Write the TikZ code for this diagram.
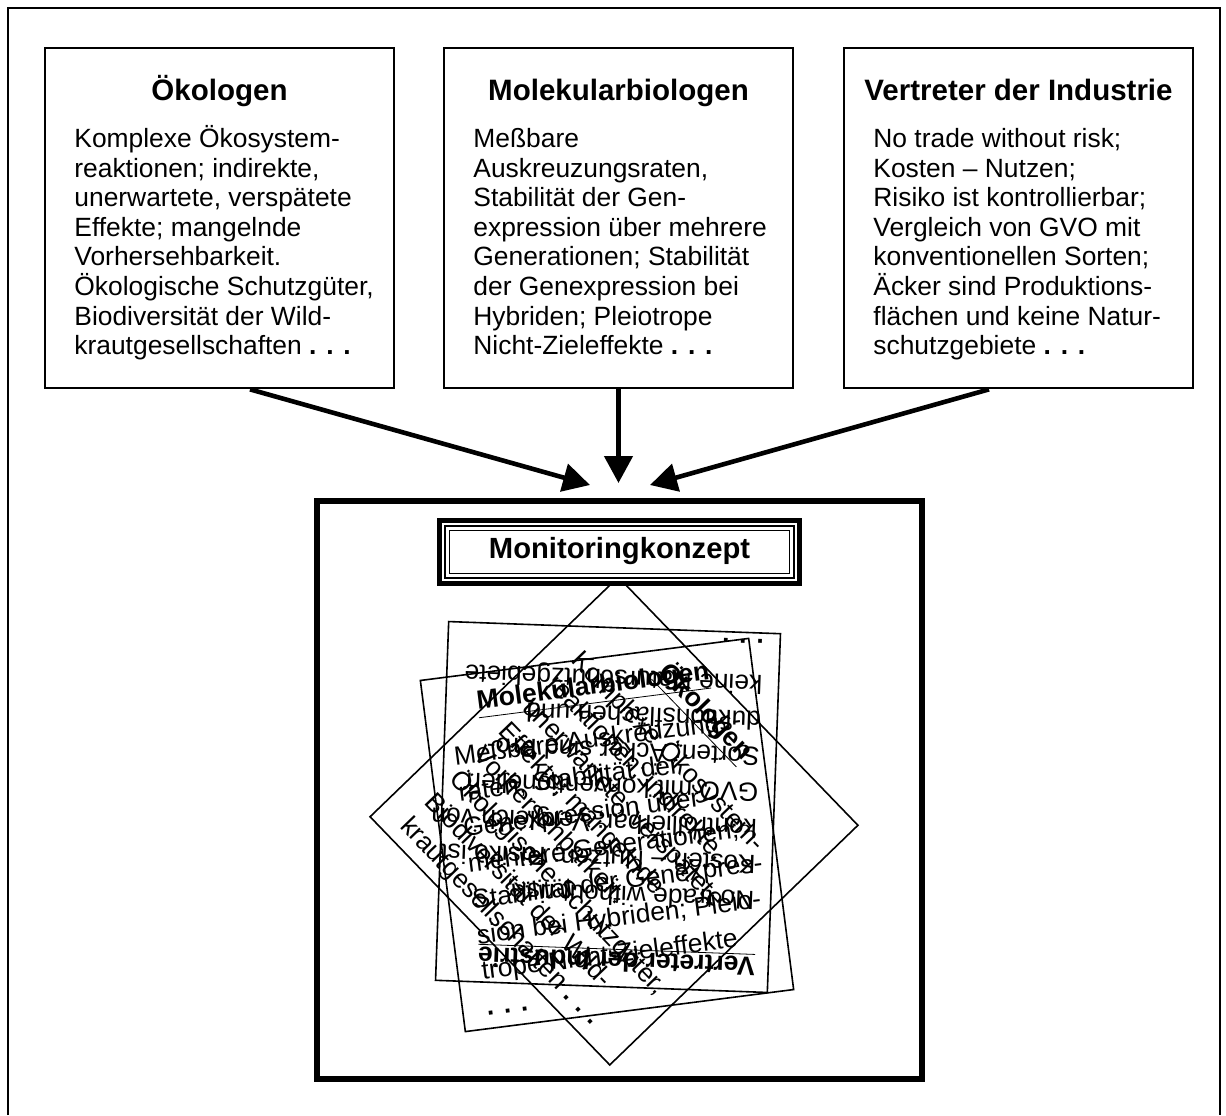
\documentclass[tikz,border=0pt]{standalone}
\usepackage{fontspec}
\setmainfont{Liberation Sans}
\usetikzlibrary{arrows.meta}

\newcommand{\hstrut}[1]{\rule{0pt}{#1}}

\begin{document}
\begin{tikzpicture}[x = 0.5pt, y = -0.5pt,
    grpbox/.style    = {draw, line width = 1.35pt, inner sep = 0pt,
                        minimum width = 174.5pt, minimum height = 170pt},
    grphead/.style   = {inner sep = 0pt, anchor = base,
                        font = \fontsize{14.75}{17}\selectfont\bfseries},
    grptext/.style   = {inner sep = 0pt, anchor = north west, align = left,
                        font = \fontsize{13.2}{14.8}\selectfont},
    flow/.style      = {line width = 2.3pt, -{Triangle[length = 13.5pt, width = 14pt]}},
    copyframe/.style = {line width = 0.8pt},
    copyhead/.style  = {inner sep = 0pt, anchor = base,
                        font = \fontsize{13.25}{16}\selectfont\bfseries},
    copytext/.style  = {inner sep = 0pt, anchor = north west, align = left,
                        font = \fontsize{13.2}{18}\selectfont}]

  \useasboundingbox (0, 0) rectangle (1226, 1115);
  \draw[line width = 1.4pt] (8, 1115) -- (8, 8) -- (1220, 8) -- (1220, 1115);

  % expert groups
  \node[grpbox] (oeko)  at ( 219.5, 218) {};
  \node[grpbox] (molek) at ( 618.5, 218) {};
  \node[grpbox] (indus) at (1018.5, 218) {};

  \node[grphead] (oekohead)  at ( 219.5, 100) {Ökologen};
  \node[grphead] (molekhead) at ( 618.5, 100) {Molekularbiologen};
  \node[grphead] (indushead) at (1018.5, 100) {Vertreter der Industrie};

  \node[grptext] (oekotext) at ( 74, 121) {\hstrut{13pt}Komplexe Ökosystem-\\reaktionen; indirekte,\\unerwartete, verspätete\\Effekte; mangelnde\\Vorhersehbarkeit.\\Ökologische Schutzgüter,\\Biodiversität der Wild-\\krautgesellschaften \textbf{. . .}};

  \node[grptext] (molektext) at (473, 121) {\hstrut{13pt}Meßbare\\Auskreuzungsraten,\\Stabilität der Gen-\\expression über mehrere\\Generationen; Stabilität\\der Genexpression bei\\Hybriden; Pleiotrope\\Nicht-Zieleffekte \textbf{. . .}};

  \node[grptext] (industext) at (873, 121) {\hstrut{13pt}No trade without risk;\\Kosten – Nutzen;\\Risiko ist kontrollierbar;\\Vergleich von GVO mit\\konventionellen Sorten;\\Äcker sind Produktions-\\flächen und keine Natur-\\schutzgebiete \textbf{. . .}};

  % arrows into the concept
  \coordinate (oekotip)  at (590,   485);
  \coordinate (molektip) at (618.5, 483);
  \coordinate (industip) at (650,   485);

  \draw[flow] ([xshift =  15.25pt]oeko.south)  -- (oekotip);
  \draw[flow] (molek.south)                    -- (molektip);
  \draw[flow] ([xshift = -14.75pt]indus.south) -- (industip);

  \node[draw, line width = 3pt, inner sep = 0pt,
        minimum width = 302.5pt, minimum height = 289pt] (concept) at (619.5, 790) {};

  % the three views thrown together
  \begin{scope}[shift = {(608, 807)}, rotate = 177.9, transform shape]
    \draw[copyframe] (-166, -179.5) rectangle (166, 179.5);
    \node[copyhead] (induscopyhead) at (-14, -145) {\underline{Vertreter der Industrie}};
    \node[copytext] (induscopytext) at (-150, -106) {\hstrut{13.2pt}No trade without risk;\\Kosten – Nutzen; Risiko ist\\kontrollierbar; Vergleich von\\GVO mit konventionellen\\Sorten; Äcker sind Pro-\\duktionsflächen und\\keine Naturschutzgebiete\\\textbf{. . .}};
  \end{scope}

  \begin{scope}[shift = {(607, 835)}, rotate = 7.3, transform shape]
    \draw[copyframe] (-165.5, -177) rectangle (165.5, 177);
    \node[copyhead] (molekcopyhead) at (5, -141) {\underline{Molekularbiologen}};
    \node[copytext] (molekcopytext) at (-142, -115) {\hstrut{13.2pt}Meßbare Auskreuzungs-\\raten, Stabilität der\\Genexpression über\\mehrere Generationen;\\Stabilität der Genexpres-\\sion bei Hybriden; Pleio-\\trope Nicht-Zieleffekte\\\textbf{. . .}};
  \end{scope}

  \begin{scope}[shift = {(614, 821)}, rotate = -46, transform shape]
    \draw[copyframe] (-172.5, -172.5) rectangle (172.5, 172.5);
    \node[copyhead] (oekocopyhead) at (-15, -134) {\underline{Ökologen}};
    \node[copytext, font = \fontsize{13.2}{17}\selectfont] (oekocopytext) at (-145, -106) {\hstrut{13.2pt}Komplexe Ökosystem-\\reaktionen; indirekte,\\unerwartete, verspätete\\Effekte; mangelnde\\Vorhersehbarkeit.\\Ökologische Schutzgüter,\\Biodiversität der Wild-\\krautgesellschaften \textbf{. . .}};
  \end{scope}

  % title box on top
  \node[draw, fill = white, line width = 2.5pt, inner sep = 0pt,
        minimum width = 180pt, minimum height = 31.5pt] (monbox) at (619.5, 552) {};
  \draw[line width = 0.6pt] (445,   526)   rectangle (794,   578);
  \draw[line width = 0.6pt] (449.5, 530.5) rectangle (789.5, 573.5);
  \node[inner sep = 0pt, anchor = base, font = \fontsize{14.6}{17}\selectfont\bfseries]
    (montitle) at (619.5, 558) {Monitoringkonzept};

\end{tikzpicture}
\end{document}
